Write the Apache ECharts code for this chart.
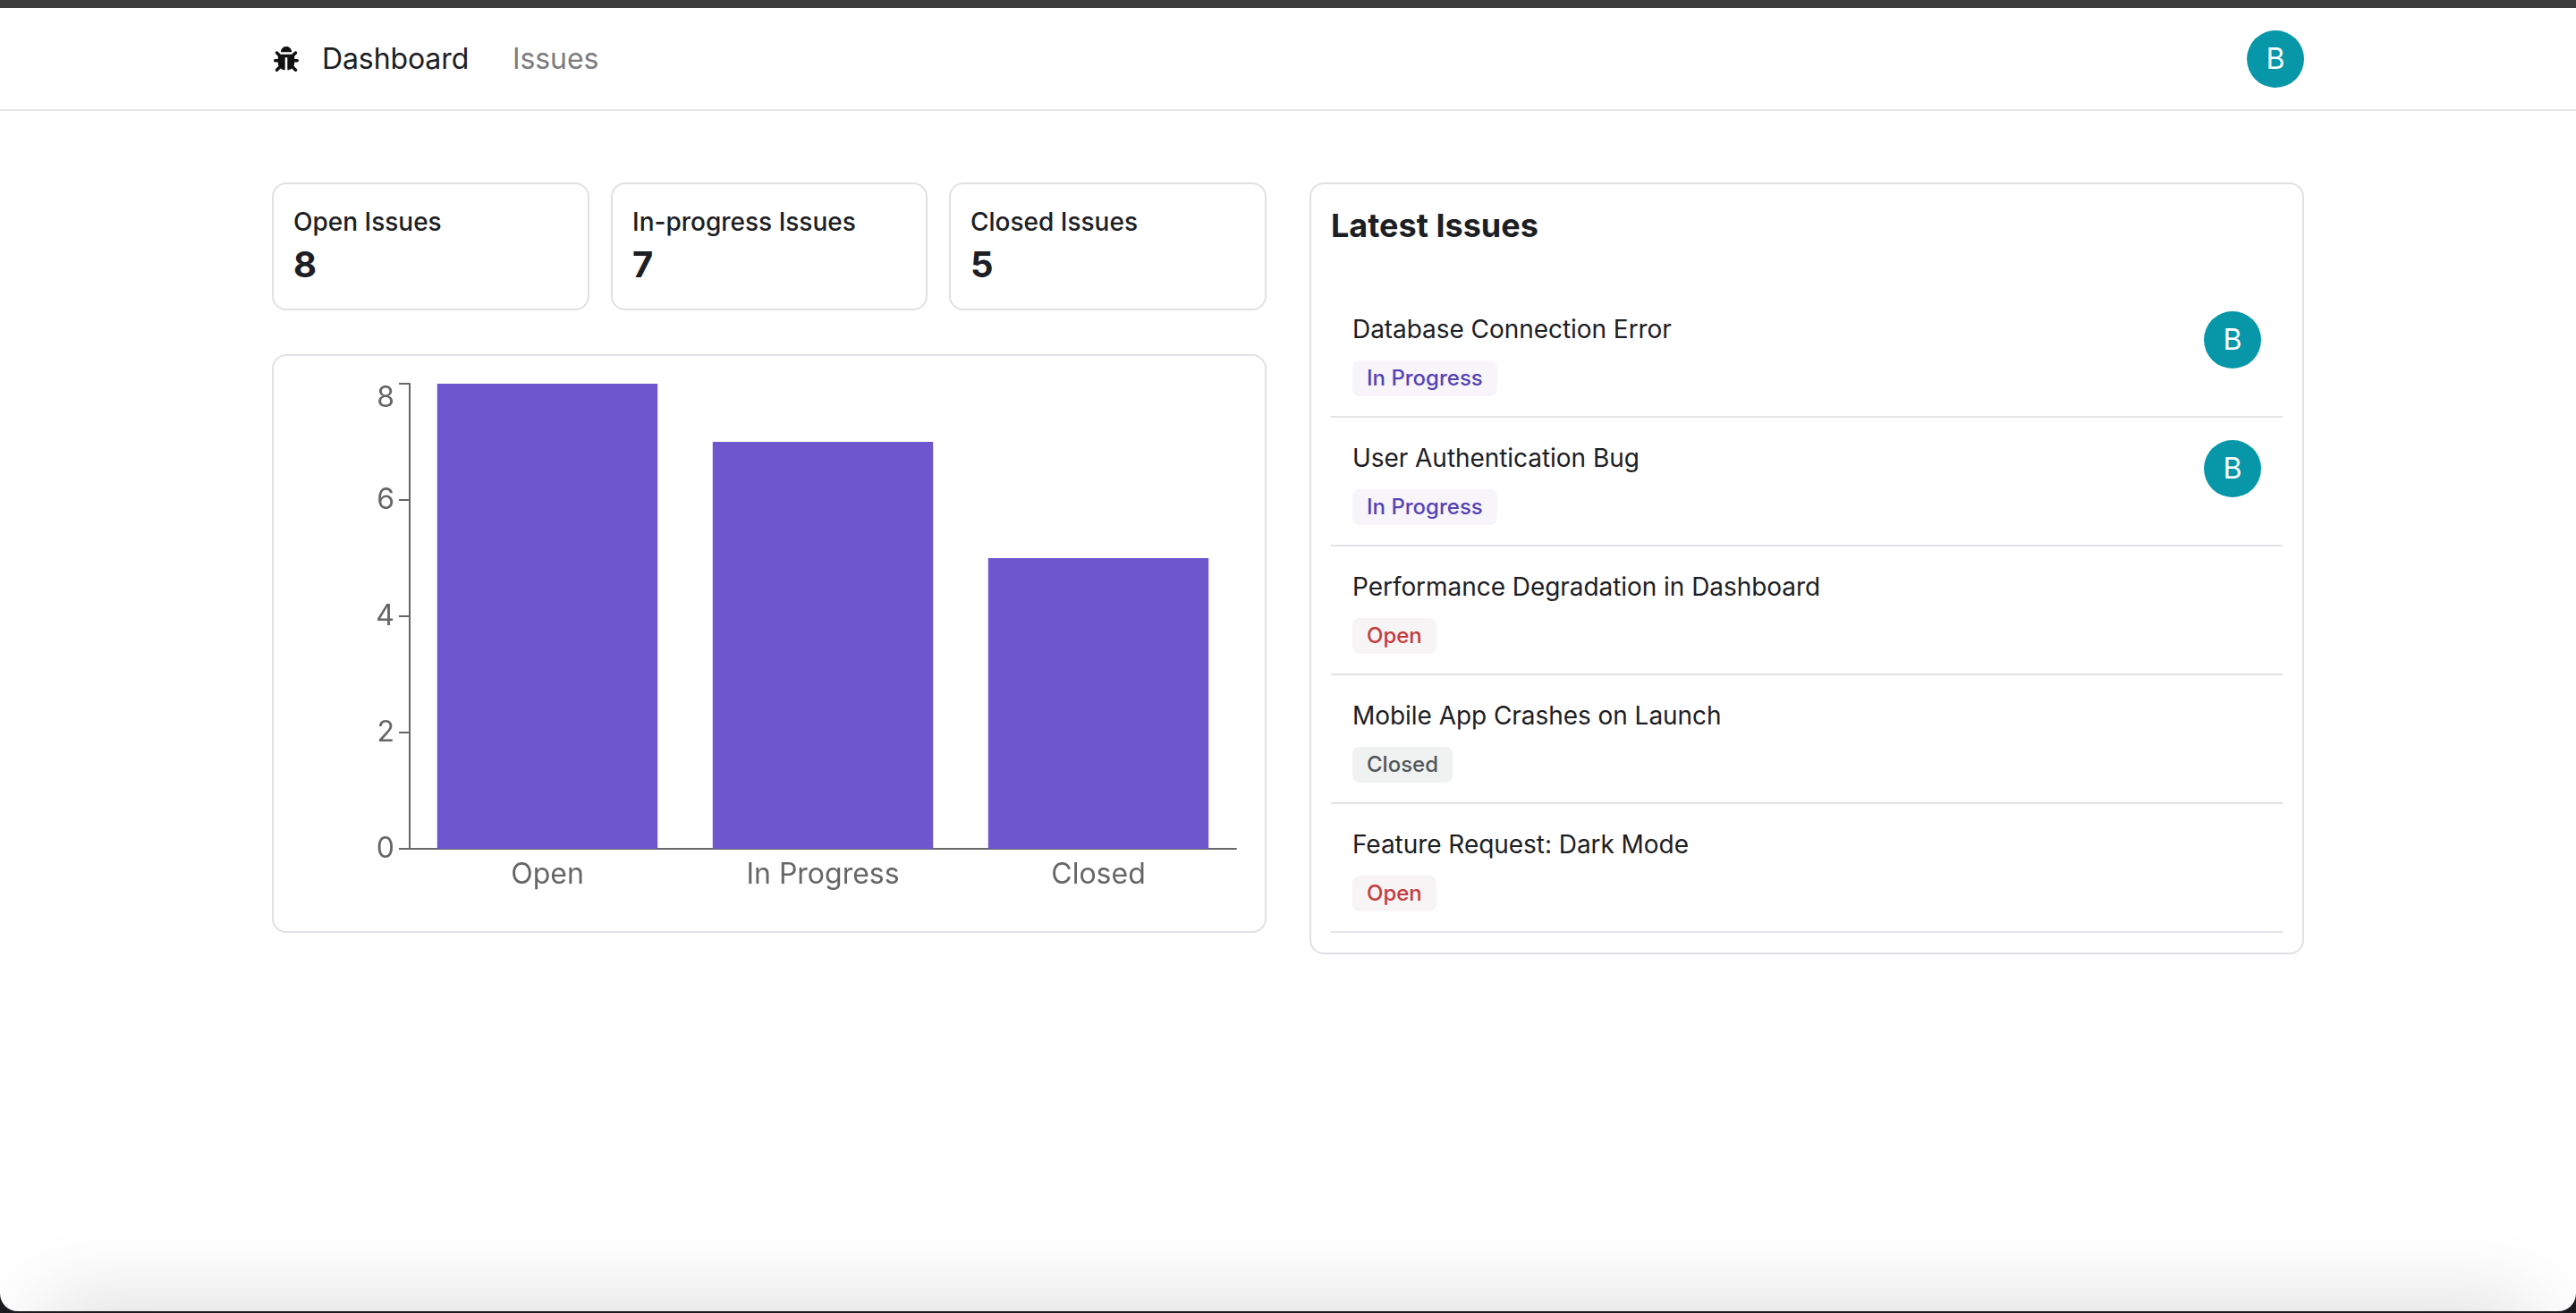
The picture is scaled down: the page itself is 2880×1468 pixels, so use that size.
<!DOCTYPE html>
<html>
<head>
<meta charset="utf-8">
<title>Issue Tracker</title>
<script src="https://cdn.jsdelivr.net/npm/echarts@6/dist/echarts.min.js"></script>
<style>
  html, body { margin: 0; padding: 0; width: 2880px; height: 1468px; overflow: hidden; background: #1b1b1d; }
  body { font-family: Inter, "Noto Sans", sans-serif; color: #1c2024; }
  #page { position: absolute; left: 0; top: 0; width: 2880px; height: 1466px; background: #fff; overflow: hidden; border-radius: 0 0 20px 20px; }
  #topbar { position: absolute; left: 0; top: 0; width: 100%; height: 9px; background: #3c3c3c; }
  #navline { position: absolute; left: 0; top: 122px; width: 100%; height: 2px; background: #e6e6e8; }
  #shade { position: absolute; left: 50px; right: 50px; top: 1466px; height: 60px; box-shadow: 0 0 96px 0 rgba(0, 5, 20, .2); }
  .abs { position: absolute; white-space: nowrap; }
  .nav { font-size: 32px; line-height: 40px; top: 46px; letter-spacing: -0.1px; }
  .card { position: absolute; box-sizing: border-box; border: 2px solid #e0e0e6; border-radius: 16px; background: #fff; }
  .label { font-size: 28px; line-height: 40px; font-weight: 450; top: 228px; }
  .num { font-size: 40px; line-height: 48px; font-weight: 700; top: 272px; }
  .avatar { position: absolute; width: 64px; height: 64px; border-radius: 50%; background: #0797a9; color: #fff; font-size: 32px; line-height: 64px; text-align: center; }
  .title { font-size: 28px; line-height: 40px; left: 1512px; letter-spacing: -0.05px; }
  .badge { position: absolute; left: 1512px; height: 40px; line-height: 40px; font-size: 24px; font-weight: 450; padding: 0 16px; border-radius: 8px; white-space: nowrap; }
  .divider { position: absolute; left: 1488px; width: 1064px; height: 2px; background: #e4e4e8; }
  #chart { position: absolute; left: 304px; top: 396px; width: 1112px; height: 647px; }
</style>
</head>
<body>
<div id="page">
  <div id="topbar"></div>
  <svg class="abs" style="left:306px;top:52px" width="28" height="28" viewBox="0 0 512 512"><path fill="#111" d="M511.988 288.9c-.478 17.43-15.217 31.1-32.653 31.1H424v16c0 21.864-4.882 42.584-13.6 61.145l60.228 60.228c12.496 12.497 12.496 32.758 0 45.255-12.498 12.497-32.759 12.496-45.256 0l-54.736-54.736C345.886 467.965 314.351 480 280 480V236c0-6.627-5.373-12-12-12h-24c-6.627 0-12 5.373-12 12v244c-34.351 0-65.886-12.035-90.636-32.108l-54.736 54.736c-12.498 12.497-32.759 12.496-45.256 0-12.496-12.497-12.496-32.758 0-45.255l60.228-60.228C92.882 378.584 88 357.864 88 336v-16H32.666C15.23 320 .491 306.33.013 288.9-.484 270.816 14.028 256 32 256h56v-58.745l-46.628-46.628c-12.496-12.497-12.496-32.758 0-45.255 12.498-12.497 32.758-12.497 45.256 0L141.255 160h229.489l54.627-54.627c12.498-12.497 32.758-12.497 45.256 0 12.496 12.497 12.496 32.758 0 45.255L424 197.255V256h56c17.972 0 32.484 14.816 31.988 32.9zM257 0c-61.856 0-112 50.144-112 112h224C369 50.144 318.856 0 257 0z"/></svg>
  <div class="abs nav" style="left:360px;color:#1c2024">Dashboard</div>
  <div class="abs nav" style="left:573px;color:#7c7c80">Issues</div>
  <div class="avatar" style="left:2512px;top:34px">B</div>
  <div id="navline"></div>
  <div class="card" style="left:304px;top:204px;width:355px;height:143px"></div>
  <div class="card" style="left:683px;top:204px;width:354px;height:143px"></div>
  <div class="card" style="left:1061px;top:204px;width:355px;height:143px"></div>
  <div class="card" style="left:304px;top:396px;width:1112px;height:647px"></div>
  <div class="card" style="left:1464px;top:204px;width:1112px;height:863px"></div>
  <div class="abs" style="left:1488px;top:228px;font-size:36px;line-height:48px;font-weight:700">Latest Issues</div>
  <div id="chart"></div>
  <div id="shade"></div>
</div>
<script>
// chart values
var statusNames = ['Open', 'In Progress', 'Closed'];
var statusCounts = [8, 7, 5];
var axisMax = 8;
var axisStep = 2;

// summary cards
var summaryLabels = ['Open Issues', 'In-progress Issues', 'Closed Issues'];

// latest issues list
var issueTitles = ['Database Connection Error', 'User Authentication Bug', 'Performance Degradation in Dashboard', 'Mobile App Crashes on Launch', 'Feature Request: Dark Mode'];
var issueStatus = ['In Progress', 'In Progress', 'Open', 'Closed', 'Open'];
var issueAssignee = ['B', 'B', '', '', ''];

var badgeColors = {
  'Open': ['#c43c3e', '#f7f4f5'],
  'In Progress': ['#5543b5', '#f7f5fa'],
  'Closed': ['#53575a', '#f0f1f1']
};

var page = document.getElementById('page');

function addEl(cls, text, css) {
  var el = document.createElement('div');
  el.className = cls;
  el.textContent = text;
  el.style.cssText = css;
  page.appendChild(el);
}

var cardLeft = [328, 707, 1085];
summaryLabels.forEach(function (name, i) {
  addEl('abs label', name, 'left:' + cardLeft[i] + 'px');
  addEl('abs num', statusCounts[i], 'left:' + cardLeft[i] + 'px');
});

// 每行高度 144
issueTitles.forEach(function (name, i) {
  var y = 144 * i;
  addEl('abs title', name, 'top:' + (348 + y) + 'px');
  var c = badgeColors[issueStatus[i]];
  addEl('badge', issueStatus[i], 'top:' + (403 + y) + 'px;color:' + c[0] + ';background:' + c[1]);
  addEl('divider', '', 'top:' + (465 + y) + 'px');
  if (issueAssignee[i]) {
    addEl('avatar', issueAssignee[i], 'left:2464px;top:' + (348 + y) + 'px');
  }
});

var axisColor = '#666';
var chart = echarts.init(document.getElementById('chart'));
chart.setOption({
  animation: false,
  textStyle: { fontFamily: 'Inter' },
  grid: { left: 154, top: 33, width: 924, height: 520 },
  xAxis: {
    type: 'category',
    data: statusNames,
    axisLine: { lineStyle: { color: axisColor, width: 2 } },
    axisTick: { alignWithLabel: true, length: 12, lineStyle: { color: axisColor, width: 2 } },
    axisLabel: { color: axisColor, fontSize: 32, margin: 13, fontFamily: 'Inter' }
  },
  yAxis: {
    type: 'value',
    min: 0,
    max: axisMax,
    interval: axisStep,
    splitLine: { show: false },
    axisLine: { show: true, lineStyle: { color: axisColor, width: 2 } },
    axisTick: { show: true, length: 12, lineStyle: { color: axisColor, width: 2 } },
    axisLabel: { color: axisColor, fontSize: 32, margin: 17, fontFamily: 'Inter', verticalAlignMaxLabel: 'top' }
  },
  series: [{
    type: 'bar',
    data: statusCounts,
    barCategoryGap: '20%',
    itemStyle: { color: '#6e56cf' }
  }]
});
</script>
</body>
</html>
